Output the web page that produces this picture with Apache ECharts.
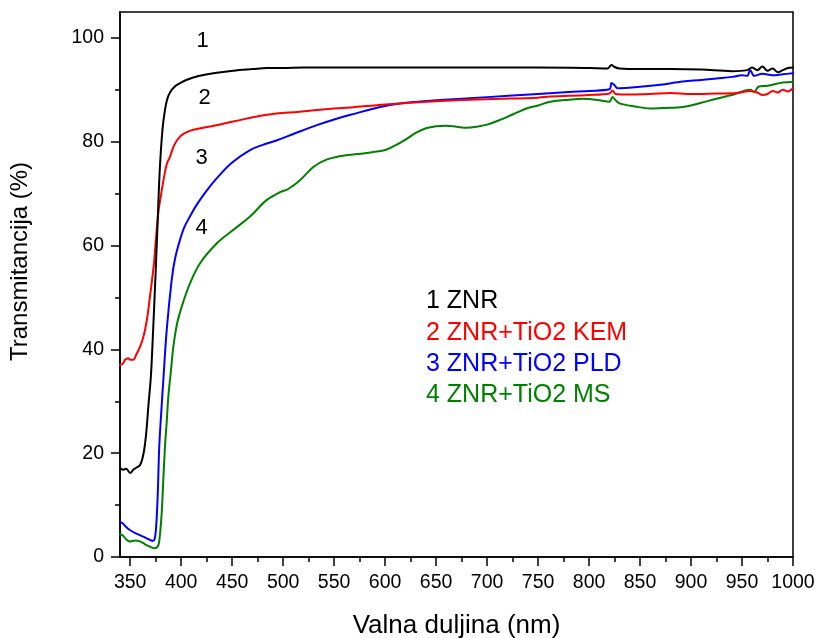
<!DOCTYPE html>
<html><head><meta charset="utf-8">
<script src="https://cdn.jsdelivr.net/npm/echarts@6/dist/echarts.min.js"></script>
<style>html,body{margin:0;padding:0;background:#fff}#c{width:816px;height:638px}</style>
</head><body><div id="c"></div>
<script>
const seriesNames = ['1 ZNR', '2 ZNR+TiO2 KEM', '3 ZNR+TiO2 PLD', '4 ZNR+TiO2 MS'];
const curveLabels = ['1', '2', '3', '4'];
const labelX = [421, 423, 420, 420];
const labelY = [99.4, 88.4, 76.9, 63.4];
const xTickLabels = [350,400,450,500,550,600,650,700,750,800,850,900,950,1000];
const xMinorTicks = [375,425,475,525,575,625,675,725,775,825,875,925,975];
const yTickLabels = [0,20,40,60,80,100];
const yMinorTicks = [10,30,50,70,90];

const wl1 = [340,342.6,346,350,353,356,359.6,362,364,366,368,370,371,373,375,376,377,378.5,380,382,384,386,389,394,399,405,418,435,451,470,484,500,520,560,600,650,700,750,800,818,822,825,830,850,880,910,940,955,960,965,970,975,980,985,990,995,1000];
const t1 = [17.2,16.8,17.0,16.2,16.8,17.2,17.7,19.0,21.0,24.5,29.5,34.0,37.3,46.0,55.0,60.0,65.0,72.6,78.0,83.0,86.0,88.0,89.5,90.7,91.3,91.9,92.7,93.3,93.7,94.0,94.2,94.2,94.3,94.3,94.3,94.3,94.3,94.3,94.2,94.1,94.8,94.4,94.1,94.0,94.0,93.9,93.6,93.8,94.3,93.8,94.5,93.7,94.1,93.4,93.8,94.2,94.3];

const wl2 = [340,342.6,345,348,350,353,356,359.6,362,364.5,367,369.4,371.5,373.3,376,378,380,383,386,389,393,398.8,405,412,430,451,484,516,550,566,600,650,700,750,762,800,820,823,826,840,860,880,900,925,945,958,965,970,975,980,985,990,995,1000];
const t2 = [37.0,37.2,38.0,38.3,38.0,38.0,39.0,40.5,41.8,43.7,46.5,50.2,53.5,56.6,63.0,67.0,69.5,73.0,75.8,77.1,79.3,81.0,81.8,82.3,83.0,83.9,85.2,85.8,86.4,86.6,87.2,87.8,88.2,88.5,88.7,89.0,89.3,89.9,89.2,89.1,89.2,89.4,89.2,89.3,89.4,89.8,89.5,89.0,89.2,89.8,89.5,90.0,89.7,90.3];

const wl3 = [340,342.6,346,349.7,355,359.6,365,369.4,372,374,375.5,377,378.5,380.5,382.5,385.8,390.7,394,398.8,403,408.6,415,425,435,450,467.5,480,494,510,533,550,566,600,625,650,700,750,780,800,820,822,825,828,850,870,892,910,925,940,950,955,958,962,970,980,990,1000];
const t3 = [6.7,6.5,5.8,5.2,4.6,4.2,3.7,3.3,3.1,3.5,6.0,12.0,21.3,28.0,34.1,43.7,53.4,57.5,61.1,63.5,65.6,67.8,70.6,73.0,76.0,78.4,79.4,80.3,81.5,83.2,84.3,85.2,86.9,87.6,88.0,88.6,89.2,89.6,89.8,90.1,91.3,90.9,90.3,90.6,91.0,91.6,91.9,92.2,92.5,92.8,92.7,93.8,92.7,93.1,92.8,93.0,93.2];

const wl4 = [340,342.6,346,349.7,355,359.6,365,369.4,373,376,378,379.5,380.9,382.5,384.1,385.8,387.4,390,392.3,396,400.5,408.6,418.5,434.8,451,467.5,484,497,505,516.5,530,543,555,566,580,600,610,620,630,640,650,660,670,680,690,700,710,720,730,740,750,762,780,794,810,820,823,826,830,845,860,875,892,910,925,940,958,962,966,975,990,1000];
const t4 = [4.4,4.2,3.4,3.0,3.2,3.0,2.4,2.0,1.7,1.8,2.5,5.0,8.5,15.0,21.3,26.0,30.9,36.0,40.5,45.0,48.2,52.7,56.6,60.4,63.0,65.6,68.8,70.3,70.9,72.6,75.2,76.6,77.2,77.5,77.8,78.4,79.3,80.4,81.7,82.6,83.0,83.1,82.9,82.7,82.9,83.3,84.0,84.8,85.7,86.5,87.0,87.7,88.1,88.3,88.0,87.7,88.6,88.0,87.4,86.8,86.4,86.5,86.7,87.5,88.3,89.0,90.0,89.6,90.6,90.8,91.4,91.5];

const colors = ['#000000', '#ff0000', '#0000ff', '#008000'];
const wls = [wl1, wl2, wl3, wl4];
const ts = [t1, t2, t3, t4];
const FONT = 'Liberation Sans, Arial, sans-serif';

const chart = echarts.init(document.getElementById('c'), null, {renderer: 'canvas'});
const series = seriesNames.map((n, i) => ({
  name: n,
  type: 'line',
  xAxisIndex: 0, yAxisIndex: 0,
  data: wls[i].map((x, k) => [x, ts[i][k]]),
  showSymbol: false,
  symbol: 'none',
  smooth: 0.35,
  lineStyle: {color: colors[i], width: 2, join: 'round', cap: 'round'},
  itemStyle: {color: colors[i]},
  emphasis: {disabled: true},
  z: 10 - i,
  markPoint: {
    symbol: 'circle', symbolSize: 0,
    silent: true,
    label: {show: true, color: '#000', fontFamily: FONT, fontSize: 22, formatter: curveLabels[i], position: 'inside'},
    data: [{coord: [labelX[i], labelY[i]]}]
  }
}));
const option = {
  animation: false,
  backgroundColor: '#fff',
  grid: {left: 120, right: 23, top: 12, bottom: 81, containLabel: false, outerBoundsMode: 'none',
         show: true, borderColor: '#000', borderWidth: 1.5, backgroundColor: 'transparent'},
  legend: {
    orient: 'vertical', left: 416, top: 284, icon: 'none', itemWidth: 0, itemHeight: 25, itemGap: 6.2,
    selectedMode: false,
    textStyle: {fontFamily: FONT, fontSize: 25},
    data: seriesNames.map((n, i) => ({name: n, textStyle: {color: colors[i]}}))
  },
  xAxis: [{
    type: 'value', min: 340, max: 1000,
    name: 'Valna duljina (nm)', nameLocation: 'middle', nameGap: 56,
    nameTextStyle: {fontFamily: FONT, fontSize: 26, color: '#000'},
    axisLine: {show: true, onZero: false, lineStyle: {color: '#000', width: 1.5}},
    axisTick: {show: true, inside: false, length: 9, lineStyle: {color: '#000', width: 1.5}, customValues: xTickLabels},
    axisLabel: {show: true, fontFamily: FONT, fontSize: 19.5, color: '#000', margin: 16, customValues: xTickLabels, formatter: v => String(v)},
    splitLine: {show: false}
  }, {
    type: 'value', min: 340, max: 1000, position: 'bottom',
    axisLine: {show: false},
    axisTick: {show: true, inside: false, length: 5, lineStyle: {color: '#000', width: 1.5}, customValues: xMinorTicks},
    axisLabel: {show: false},
    splitLine: {show: false}
  }],
  yAxis: [{
    type: 'value', min: 0, max: 105,
    name: 'Transmitancija (%)', nameLocation: 'middle', nameGap: 88,
    nameTextStyle: {fontFamily: FONT, fontSize: 24, color: '#000', padding: [0, 0, 0, 46]},
    axisLine: {show: true, onZero: false, lineStyle: {color: '#000', width: 1.5}},
    axisTick: {show: true, inside: false, length: 9, lineStyle: {color: '#000', width: 1.5}, customValues: yTickLabels},
    axisLabel: {show: true, fontFamily: FONT, fontSize: 19.5, color: '#000', margin: 16, customValues: yTickLabels},
    splitLine: {show: false}
  }, {
    type: 'value', min: 0, max: 105, position: 'left',
    axisLine: {show: false},
    axisTick: {show: true, inside: false, length: 5, lineStyle: {color: '#000', width: 1.5}, customValues: yMinorTicks},
    axisLabel: {show: false},
    splitLine: {show: false}
  }],
  series: series
};
chart.setOption(option);
</script>
</body></html>
